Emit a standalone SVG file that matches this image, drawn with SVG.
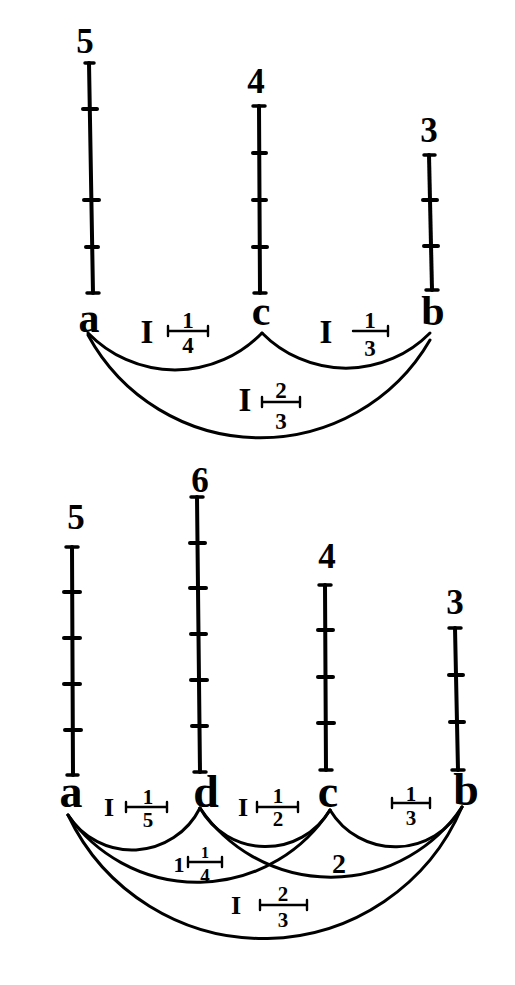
<svg xmlns="http://www.w3.org/2000/svg" width="515" height="985" viewBox="0 0 515 985">
<style>
.bar{stroke:#000;stroke-width:4;stroke-linecap:round;fill:none}
.tk{stroke:#000;stroke-width:4;stroke-linecap:round}
.cap{stroke:#000;stroke-width:3.5;stroke-linecap:round}
.arc{fill:none;stroke:#000;stroke-width:3;stroke-linecap:round}
.fb{fill:none;stroke:#000;stroke-width:2.4;stroke-linecap:round}
.num{font-family:"Liberation Serif","DejaVu Serif",serif;font-weight:bold;font-size:35px;text-anchor:middle;fill:#000}
.let{font-family:"Liberation Serif","DejaVu Serif",serif;font-weight:bold;font-size:42px;text-anchor:middle;fill:#000}
.letb{font-family:"Liberation Serif","DejaVu Serif",serif;font-weight:bold;font-size:46px;text-anchor:middle;fill:#000}
.one{font-family:"Liberation Serif","DejaVu Serif",serif;font-weight:bold;font-size:33px;text-anchor:middle;fill:#000}
.oneb{font-family:"Liberation Serif","DejaVu Serif",serif;font-weight:bold;font-size:26px;text-anchor:middle;fill:#000}
.fr{font-family:"Liberation Serif","DejaVu Serif",serif;font-weight:bold;font-size:23px;text-anchor:middle;fill:#000}
.frb{font-family:"Liberation Serif","DejaVu Serif",serif;font-weight:bold;font-size:21px;text-anchor:middle;fill:#000}
</style>
<rect width="515" height="985" fill="#fff"/>

<!-- TOP FIGURE -->
<g id="top-a">
  <text class="num" x="85" y="53">5</text>
  <line class="bar" x1="89" y1="63" x2="93" y2="293"/>
  <line class="cap" x1="85" y1="63" x2="94" y2="63"/>
  <line class="tk" x1="83" y1="109" x2="97" y2="109"/>
  <line class="tk" x1="84" y1="200" x2="99" y2="200"/>
  <line class="tk" x1="86" y1="247" x2="98" y2="247"/>
  <line class="cap" x1="87" y1="293" x2="99" y2="293"/>
  <text class="let" x="89" y="332">a</text>
</g>
<g id="top-c">
  <text class="num" x="256" y="93">4</text>
  <line class="bar" x1="259" y1="106" x2="260" y2="293"/>
  <line class="cap" x1="253" y1="106" x2="265" y2="106"/>
  <line class="tk" x1="253" y1="153" x2="266" y2="153"/>
  <line class="tk" x1="253" y1="200" x2="266" y2="200"/>
  <line class="tk" x1="253" y1="247" x2="267" y2="247"/>
  <line class="cap" x1="254" y1="293" x2="266" y2="293"/>
  <text class="let" x="261" y="325">c</text>
</g>
<g id="top-b">
  <text class="num" x="429" y="142">3</text>
  <line class="bar" x1="429" y1="155" x2="432" y2="290"/>
  <line class="cap" x1="424" y1="155" x2="435" y2="155"/>
  <line class="tk" x1="423" y1="200" x2="437" y2="200"/>
  <line class="tk" x1="424" y1="246" x2="438" y2="246"/>
  <line class="cap" x1="426" y1="290" x2="438" y2="290"/>
  <text class="let" x="433" y="325">b</text>
</g>

<g id="top-connectors">
  <path class="arc" d="M88,333 A121,121 0 0 0 262,333"/>
  <path class="arc" d="M262,333 A118,118 0 0 0 430,333"/>
  <path class="arc" d="M88,335 A196,196 0 0 0 430,340"/>
</g>

<g id="top-labels">
  <g id="lbl-ac">
    <text class="one" x="147" y="343">I</text>
    <text class="fr" x="188" y="328">1</text>
    <path class="fb" d="M168,326 V336 M168,331 H208 M208,326 V336"/>
    <text class="fr" x="188" y="353">4</text>
  </g>
  <g id="lbl-cb">
    <text class="one" x="326" y="343">I</text>
    <text class="fr" x="370" y="328">1</text>
    <path class="fb" d="M353,331 H388 M388,326 V336"/>
    <text class="fr" x="370" y="356">3</text>
  </g>
  <g id="lbl-ab">
    <text class="one" x="245" y="411">I</text>
    <text class="fr" x="281" y="398">2</text>
    <path class="fb" d="M262,397 V407 M262,402 H300 M300,397 V407"/>
    <text class="fr" x="281" y="429">3</text>
  </g>
</g>

<!-- BOTTOM FIGURE -->
<g id="bot-a">
  <text class="num" x="76" y="529">5</text>
  <line class="bar" x1="72" y1="547" x2="73" y2="775"/>
  <line class="cap" x1="66" y1="547" x2="78" y2="547"/>
  <line class="tk" x1="64" y1="592" x2="80" y2="592"/>
  <line class="tk" x1="64" y1="638" x2="80" y2="638"/>
  <line class="tk" x1="64" y1="684" x2="80" y2="684"/>
  <line class="tk" x1="65" y1="730" x2="81" y2="730"/>
  <line class="cap" x1="67" y1="775" x2="78" y2="775"/>
  <text class="letb" x="71" y="807">a</text>
</g>
<g id="bot-d">
  <text class="num" x="200" y="492">6</text>
  <line class="bar" x1="197" y1="497" x2="200" y2="772"/>
  <line class="cap" x1="191" y1="497" x2="203" y2="497"/>
  <line class="tk" x1="190" y1="543" x2="205" y2="543"/>
  <line class="tk" x1="190" y1="588" x2="206" y2="588"/>
  <line class="tk" x1="191" y1="634" x2="206" y2="634"/>
  <line class="tk" x1="191" y1="680" x2="207" y2="680"/>
  <line class="tk" x1="192" y1="726" x2="207" y2="726"/>
  <line class="cap" x1="194" y1="772" x2="206" y2="772"/>
  <text class="letb" x="206" y="807">d</text>
</g>
<g id="bot-c">
  <text class="num" x="327" y="568">4</text>
  <line class="bar" x1="325" y1="585" x2="326" y2="770"/>
  <line class="cap" x1="319" y1="585" x2="331" y2="585"/>
  <line class="tk" x1="318" y1="630" x2="333" y2="630"/>
  <line class="tk" x1="318" y1="677" x2="333" y2="677"/>
  <line class="tk" x1="318" y1="723" x2="334" y2="723"/>
  <line class="cap" x1="320" y1="770" x2="332" y2="770"/>
  <text class="letb" x="328" y="807">c</text>
</g>
<g id="bot-b">
  <text class="num" x="455" y="614">3</text>
  <line class="bar" x1="455" y1="628" x2="458" y2="770"/>
  <line class="cap" x1="449" y1="628" x2="461" y2="628"/>
  <line class="tk" x1="449" y1="675" x2="463" y2="675"/>
  <line class="tk" x1="450" y1="722" x2="464" y2="722"/>
  <line class="cap" x1="452" y1="770" x2="464" y2="770"/>
  <text class="letb" x="466" y="805">b</text>
</g>

<g id="bottom-connectors">
  <path class="arc" d="M68,815 A76,76 0 0 0 200,808"/>
  <path class="arc" d="M200,808 A75,75 0 0 0 330,810"/>
  <path class="arc" d="M330,810 A76,76 0 0 0 462,807"/>
  <path class="arc" d="M68,815 A158,158 0 0 0 330,810"/>
  <path class="arc" d="M200,808 A158,158 0 0 0 462,807"/>
  <path class="arc" d="M68,815 A216,216 0 0 0 462,807"/>
</g>

<g id="bottom-labels">
  <g id="lbl-ad">
    <text class="oneb" x="109" y="816">I</text>
    <text class="frb" x="148" y="804">1</text>
    <path class="fb" d="M126,802 V812 M126,807 H167 M167,802 V812"/>
    <text class="frb" x="148" y="827">5</text>
  </g>
  <g id="lbl-dc">
    <text class="oneb" x="243" y="816">I</text>
    <text class="frb" x="278" y="803">1</text>
    <path class="fb" d="M257,802 V812 M257,807 H298 M298,802 V812"/>
    <text class="frb" x="278" y="826">2</text>
  </g>
  <g id="lbl-cb2">
    <text class="frb" x="411" y="801">1</text>
    <path class="fb" d="M392,798 V808 M392,803 H430 M430,798 V808"/>
    <text class="frb" x="411" y="825">3</text>
  </g>
  <g id="lbl-ac2">
    <text class="oneb" x="179" y="872" style="font-size:22px">1</text>
    <text class="frb" x="205" y="858" style="font-size:16px">1</text>
    <path class="fb" d="M188,857 V867 M188,862 H222 M222,857 V867"/>
    <text class="frb" x="205" y="882" style="font-size:19px">4</text>
  </g>
  <g id="lbl-db">
    <text class="oneb" x="339" y="873" style="font-size:28px">2</text>
  </g>
  <g id="lbl-ab2">
    <text class="oneb" x="236" y="914">I</text>
    <text class="frb" x="283" y="901">2</text>
    <path class="fb" d="M260,900 V910 M260,905 H307 M307,900 V910"/>
    <text class="frb" x="283" y="927">3</text>
  </g>
</g>
</svg>
